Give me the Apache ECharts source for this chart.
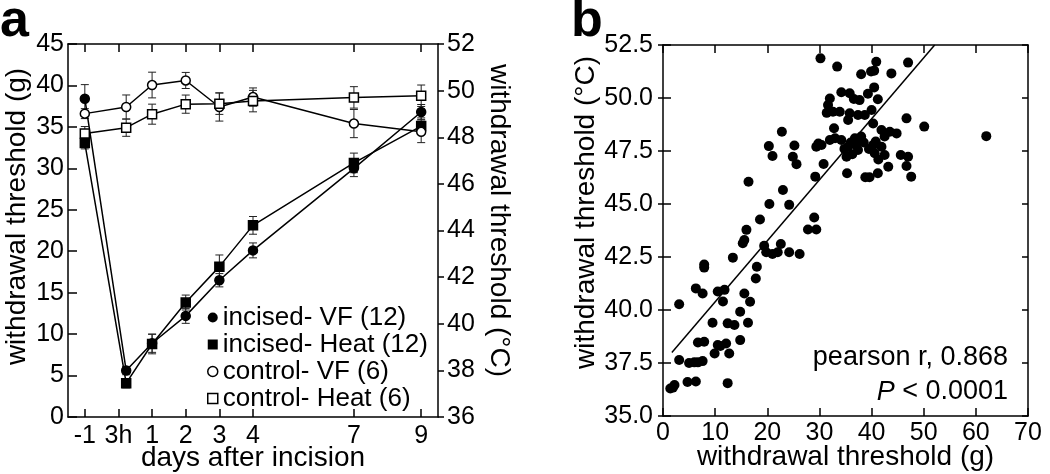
<!DOCTYPE html>
<html>
<head>
<meta charset="utf-8">
<script src="https://cdn.jsdelivr.net/npm/echarts@6/dist/echarts.min.js"></script>
<style>
  html, body { margin: 0; padding: 0; background: #fff; }
  #chart { width: 1050px; height: 474px; }
</style>
</head>
<body>
<div id="chart"></div>
<script>
// panel a: time course
const dayTicks = [-1, 0, 1, 2, 3, 4, 7, 9];
const dayTickLabels = ['-1', '3h', '1', '2', '3', '4', '7', '9'];
const dayPositions = [-1, 0.23, 1, 2, 3, 4, 7, 9];

const incisedVF = [38.4, 5.6, 8.9, 12.2, 16.5, 20.1, 30.0, 36.8];
const incisedVFErr = [1.7, 0.5, 1.1, 0.9, 0.8, 0.9, 1.0, 0.9];
const incisedHeat = [47.75, 37.45, 39.13, 40.91, 42.45, 44.22, 46.9, 48.48];
const incisedHeatErr = [0.25, 0.2, 0.42, 0.32, 0.5, 0.38, 0.42, 0.35];
const controlVF = [36.6, 37.4, 40.05, 40.6, 37.4, 38.6, 35.4, 34.4];
const controlVFErr = [0.6, 1.45, 1.55, 0.97, 1.7, 1.1, 1.7, 1.3];
const controlHeat = [48.16, 48.41, 48.99, 49.42, 49.44, 49.55, 49.71, 49.78];
const controlHeatErr = [0.3, 0.37, 0.43, 0.39, 0.46, 0.46, 0.46, 0.46];

// panel b: correlation
const thresholdG = [
  30.2, 33.4, 38.0, 40.9, 40.5, 39.9, 43.8, 47.0, 34.2, 35.8,
  32.0, 31.65, 37.7, 36.6, 39.3, 40.5, 41.2, 31.4, 32.6, 33.9,
  35.5, 35.8, 37.4, 38.7, 40.0, 32.8, 40.3, 46.7, 50.1, 62.0,
  22.8, 20.3, 21.0, 25.2, 24.9, 25.6, 29.4, 29.8, 30.4, 32.0,
  30.8, 29.2, 34.2, 35.5, 36.8, 38.0, 37.4, 35.2, 35.3, 38.8,
  39.6, 41.2, 43.2, 41.9, 43.5, 44.8, 42.5, 40.3, 41.9, 40.6,
  42.5, 45.6, 47.0, 46.7, 47.6, 36.0, 37.0, 34.8, 36.3, 38.5,
  39.5, 40.8, 41.3, 33.0, 16.4, 23.0, 20.4, 24.2, 18.6, 16.0,
  29.0, 27.8, 29.4, 3.1, 2.2, 1.9, 4.7, 6.3, 12.4, 3.1,
  6.0, 7.6, 6.7, 7.9, 6.7, 9.5, 6.3, 7.6, 7.9, 7.9,
  10.5, 11.8, 11.5, 12.4, 13.7, 14.8, 15.6, 16.7, 16.3, 14.8,
  9.9, 12.1, 12.7, 10.5, 13.4, 15.3, 15.6, 18.0, 17.8, 19.4,
  19.8, 21.0, 22.0, 22.6, 24.2, 26.2, 1.4, 5.0, 11.0
];
const thresholdC = [
  51.87, 51.48, 51.12, 51.71, 51.29, 51.25, 51.16, 51.67, 50.27, 50.22,
  49.98, 49.67, 49.9, 49.95, 50.2, 50.5, 49.94, 49.3, 49.35, 49.35,
  48.96, 49.28, 49.2, 49.2, 49.43, 48.57, 48.8, 49.04, 48.65, 48.2,
  48.41, 47.73, 47.26, 47.76, 47.23, 46.88, 47.7, 47.85, 47.78, 48.02,
  46.89, 46.29, 48.02, 47.7, 48.1, 48.18, 47.55, 47.23, 46.45, 46.26,
  46.26, 46.45, 46.76, 48.49, 48.41, 48.33, 48.18, 47.78, 47.7, 47.39,
  47.31, 47.31, 47.23, 46.79, 46.29, 47.9, 47.8, 47.6, 47.35, 47.9,
  47.6, 47.95, 47.1, 48.1, 46.05, 45.66, 45.0, 44.96, 44.27, 43.78,
  44.36, 43.8, 43.8, 40.27, 36.46, 36.34, 36.6, 36.63, 36.55, 37.64,
  37.53, 37.59, 37.53, 38.5, 38.47, 39.4, 41.02, 40.78, 42.15, 42.0,
  40.87, 40.95, 40.4, 39.37, 39.29, 39.92, 40.78, 40.39, 39.4, 38.58,
  37.95, 38.42, 37.95, 38.35, 42.47, 43.15, 43.3, 42.04, 41.49, 43.03,
  42.72, 42.64, 42.72, 43.11, 42.72, 42.64, 36.3, 37.5, 38.3
];
const fitLine = [[1.7, 38.0], [52.1, 52.5]];

const FONT = "'Liberation Sans', Arial, sans-serif";
const chart = echarts.init(document.getElementById('chart'));

const axisLine = { show: true, onZero: false, lineStyle: { color: '#000', width: 1.5 } };
const tickStyle = { color: '#000', width: 1.5 };
const labelStyle = { color: '#000', fontSize: 25, fontFamily: FONT };
const nameStyle = { color: '#000', fontSize: 28, fontFamily: FONT };

function lineSeries(name, values, yAxisIndex, symbol, filled) {
  return {
    name: name,
    type: 'line',
    xAxisIndex: 0,
    yAxisIndex: yAxisIndex,
    data: dayPositions.map((x, i) => [x, values[i]]),
    symbol: symbol,
    symbolSize: 9,
    showSymbol: true,
    lineStyle: { color: '#000', width: 1.5 },
    itemStyle: { color: filled ? '#000' : '#fff', borderColor: '#000', borderWidth: 1.5 },
    z: 3
  };
}

function errorSeries(values, errs, yAxisIndex) {
  return {
    type: 'custom',
    xAxisIndex: 0,
    yAxisIndex: yAxisIndex,
    silent: true,
    z: 2,
    data: dayPositions.map((x, i) => [x, values[i] - errs[i], values[i] + errs[i]]),
    renderItem: function (params, api) {
      const lo = api.coord([api.value(0), api.value(1)]);
      const hi = api.coord([api.value(0), api.value(2)]);
      const w = 4;
      const style = { stroke: '#222', lineWidth: 1 };
      return {
        type: 'group',
        children: [
          { type: 'line', shape: { x1: lo[0], y1: lo[1], x2: hi[0], y2: hi[1] }, style: style },
          { type: 'line', shape: { x1: lo[0] - w, y1: lo[1], x2: lo[0] + w, y2: lo[1] }, style: style },
          { type: 'line', shape: { x1: hi[0] - w, y1: hi[1], x2: hi[0] + w, y2: hi[1] }, style: style }
        ]
      };
    }
  };
}

const option = {
  animation: false,
  backgroundColor: '#fff',
  textStyle: { fontFamily: FONT },
  graphic: [
    { type: 'text', x: 0, y: 48, style: { text: 'a', font: 'bold 52px ' + FONT, fill: '#000', verticalAlign: 'bottom' } },
    { type: 'text', x: 571, y: 48, style: { text: 'b', font: 'bold 52px ' + FONT, fill: '#000', verticalAlign: 'bottom' } },
    { type: 'text', x: 1008, y: 358, style: { text: 'pearson r, 0.868', font: '27px ' + FONT, fill: '#000', align: 'right', verticalAlign: 'middle' } },
    {
      type: 'text', x: 1008, y: 392,
      style: {
        text: '{i|P} < 0.0001', font: '27px ' + FONT, fill: '#000', align: 'right', verticalAlign: 'middle',
        rich: { i: { fontStyle: 'italic', fontSize: 27, fontFamily: FONT } }
      }
    }
  ],
  legend: {
    orient: 'vertical',
    left: 207,
    top: 304,
    itemWidth: 10,
    itemHeight: 10,
    itemGap: 0,
    padding: 0,
    textStyle: { color: '#000', fontSize: 26, fontFamily: FONT, lineHeight: 27 },
    data: [
      { name: 'incised- VF (12)', icon: 'circle', itemStyle: { color: '#000', borderWidth: 0 } },
      { name: 'incised- Heat (12)', icon: 'rect', itemStyle: { color: '#000', borderWidth: 0 } },
      { name: 'control- VF (6)', icon: 'circle', itemStyle: { color: '#fff', borderColor: '#000', borderWidth: 1.5 } },
      { name: 'control- Heat (6)', icon: 'rect', itemStyle: { color: '#fff', borderColor: '#000', borderWidth: 1.5 } }
    ]
  },
  grid: [
    { left: 68, top: 44, width: 370, height: 373, outerBoundsMode: 'none', containLabel: false },
    { left: 663, top: 45, width: 365, height: 371, outerBoundsMode: 'none', containLabel: false }
  ],
  xAxis: [
    {
      type: 'value', gridIndex: 0, position: 'bottom', min: -1.5, max: 9.5,
      axisLine: axisLine, splitLine: { show: false },
      axisTick: { inside: true, length: 8, lineStyle: tickStyle, customValues: dayTicks },
      axisLabel: Object.assign({ margin: 7, customValues: dayTicks,
        formatter: v => dayTickLabels[dayTicks.indexOf(v)] }, labelStyle),
      name: 'days after incision', nameLocation: 'middle', nameGap: 27, nameMoveOverlap: false,
      nameTextStyle: nameStyle
    },
    {
      type: 'value', gridIndex: 0, position: 'top', min: -1.5, max: 9.5,
      axisLine: axisLine, splitLine: { show: false },
      axisTick: { inside: true, length: 8, lineStyle: tickStyle, customValues: dayTicks },
      axisLabel: { show: false }
    },
    {
      type: 'value', gridIndex: 1, position: 'bottom', min: 0, max: 70, interval: 10,
      axisLine: axisLine, splitLine: { show: false },
      axisTick: { inside: true, length: 8, lineStyle: tickStyle },
      axisLabel: Object.assign({ margin: 5 }, labelStyle),
      name: 'withdrawal threshold (g)', nameLocation: 'middle', nameGap: 27, nameMoveOverlap: false,
      nameTextStyle: nameStyle
    },
    {
      type: 'value', gridIndex: 1, position: 'top', min: 0, max: 70, interval: 10,
      axisLine: axisLine, splitLine: { show: false },
      axisTick: { inside: true, length: 8, lineStyle: tickStyle },
      axisLabel: { show: false }
    }
  ],
  yAxis: [
    {
      type: 'value', gridIndex: 0, position: 'left', min: 0, max: 45, interval: 5,
      axisLine: axisLine, splitLine: { show: false },
      axisTick: { inside: true, length: 9, lineStyle: tickStyle },
      axisLabel: Object.assign({ margin: 4 }, labelStyle),
      name: 'withdrawal threshold (g)', nameLocation: 'middle', nameGap: 37, nameRotate: 90,
      nameTextStyle: Object.assign({ padding: [0, 0, 0, 28] }, nameStyle)
    },
    {
      type: 'value', gridIndex: 0, position: 'right', min: 36, max: 52, interval: 2,
      axisLine: axisLine, splitLine: { show: false },
      axisTick: { inside: false, length: 6, lineStyle: tickStyle },
      axisLabel: Object.assign({ margin: 9 }, labelStyle),
      name: 'withdrawal threshold (°C)', nameLocation: 'middle', nameGap: 47, nameRotate: -90,
      nameTextStyle: Object.assign({ padding: [0, 20, 0, 0] }, nameStyle)
    },
    {
      type: 'value', gridIndex: 1, position: 'left', min: 35, max: 52.5, interval: 2.5,
      axisLine: axisLine, splitLine: { show: false },
      axisTick: { inside: false, length: 5, lineStyle: tickStyle },
      axisLabel: Object.assign({ margin: 10, formatter: v => v.toFixed(1) }, labelStyle),
      name: 'withdrawal threshold (°C)', nameLocation: 'middle', nameGap: 61, nameRotate: 90,
      nameTextStyle: Object.assign({ padding: [0, 0, 0, 36] }, nameStyle)
    },
    {
      type: 'value', gridIndex: 1, position: 'left', min: 35, max: 52.5, interval: 2.5,
      axisLine: { show: false, onZero: false }, splitLine: { show: false },
      axisTick: { inside: true, length: 8, lineStyle: tickStyle },
      axisLabel: { show: false }
    },
    {
      type: 'value', gridIndex: 1, position: 'right', min: 35, max: 52.5, interval: 2.5,
      axisLine: axisLine, splitLine: { show: false },
      axisTick: { inside: true, length: 6, lineStyle: tickStyle },
      axisLabel: { show: false }
    }
  ],
  series: [
    errorSeries(incisedVF, incisedVFErr, 0),
    errorSeries(incisedHeat, incisedHeatErr, 1),
    errorSeries(controlVF, controlVFErr, 0),
    errorSeries(controlHeat, controlHeatErr, 1),
    lineSeries('incised- VF (12)', incisedVF, 0, 'circle', true),
    lineSeries('incised- Heat (12)', incisedHeat, 1, 'rect', true),
    lineSeries('control- VF (6)', controlVF, 0, 'circle', false),
    lineSeries('control- Heat (6)', controlHeat, 1, 'rect', false),
    {
      type: 'scatter',
      xAxisIndex: 2,
      yAxisIndex: 2,
      data: thresholdG.map((g, i) => [g, thresholdC[i]]),
      symbol: 'circle',
      symbolSize: 10,
      itemStyle: { color: '#000', opacity: 1 },
      z: 3
    },
    {
      type: 'line',
      xAxisIndex: 2,
      yAxisIndex: 2,
      data: fitLine,
      showSymbol: false,
      symbol: 'none',
      lineStyle: { color: '#000', width: 1.5 },
      z: 4
    }
  ]
};

chart.setOption(option);
</script>
</body>
</html>
